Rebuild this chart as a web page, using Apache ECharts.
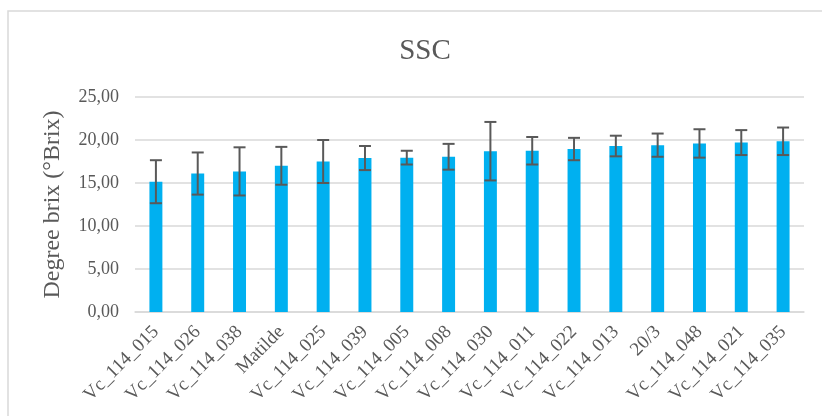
<!DOCTYPE html>
<html>
<head>
<meta charset="utf-8">
<script src="https://cdn.jsdelivr.net/npm/echarts@6/dist/echarts.min.js"></script>
<style>
  html, body { margin: 0; padding: 0; background: #ffffff; }
  #chart { width: 822px; height: 416px; }
</style>
</head>
<body>
<div id="chart"></div>
<script>
// Soluble solids content per genotype (mean ± SD)
const categories = [
  'Vc_114_015', 'Vc_114_026', 'Vc_114_038', 'Matilde', 'Vc_114_025', 'Vc_114_039',
  'Vc_114_005', 'Vc_114_008', 'Vc_114_030', 'Vc_114_011', 'Vc_114_022', 'Vc_114_013',
  '20/3', 'Vc_114_048', 'Vc_114_021', 'Vc_114_035'
];
const meanValues = [15.15, 16.1, 16.35, 17.0, 17.5, 17.9, 17.95, 18.05, 18.7, 18.75, 18.95, 19.3, 19.4, 19.6, 19.7, 19.85];
const sdValues = [2.5, 2.45, 2.8, 2.2, 2.5, 1.4, 0.8, 1.5, 3.4, 1.6, 1.3, 1.2, 1.35, 1.65, 1.45, 1.6];
const yTicks = [0, 5, 10, 15, 20, 25];

const serif = "'Liberation Serif', 'Times New Roman', serif";
const textGray = '#595959';
const gridGray = '#d9d9d9';

const errorData = categories.map((c, i) => [i, meanValues[i] - sdValues[i], meanValues[i] + sdValues[i]]);

const chart = echarts.init(document.getElementById('chart'), null, { renderer: 'canvas' });
chart.setOption({
  backgroundColor: '#ffffff',
  animation: false,
  title: {
    text: 'SSC',
    left: 420,
    textAlign: 'center',
    top: 32,
    textStyle: { fontFamily: serif, fontSize: 29, fontWeight: 'normal', color: textGray }
  },
  graphic: [{
    type: 'rect',
    shape: { x: 8, y: 11, width: 900, height: 500 },
    style: { fill: 'none', stroke: gridGray, lineWidth: 1.5 },
    silent: true
  }],
  grid: { left: 135, top: 97, width: 669, height: 215 },
  xAxis: {
    type: 'category',
    data: categories,
    axisLine: { lineStyle: { color: gridGray, width: 1.5 } },
    axisTick: { show: false },
    axisLabel: {
      interval: 0,
      rotate: 45,
      margin: 17,
      fontFamily: serif,
      fontSize: 19,
      color: textGray
    }
  },
  yAxis: {
    type: 'value',
    min: yTicks[0],
    max: yTicks[yTicks.length - 1],
    interval: 5,
    name: 'Degree brix (°Brix)',
    nameLocation: 'middle',
    nameGap: 70,
    nameTextStyle: { fontFamily: serif, fontSize: 24, color: textGray },
    axisLine: { show: false },
    axisTick: { show: false },
    splitLine: { lineStyle: { color: gridGray, width: 1.5 } },
    axisLabel: {
      margin: 16,
      fontFamily: serif,
      fontSize: 18,
      color: textGray,
      formatter: v => v.toFixed(2).replace('.', ',')
    }
  },
  series: [
    {
      type: 'bar',
      data: meanValues,
      barWidth: '31%',
      itemStyle: { color: '#00B0F0' }
    },
    {
      type: 'custom',
      data: errorData,
      z: 10,
      renderItem: function (params, api) {
        const x = api.value(0);
        const lo = api.coord([x, api.value(1)]);
        const hi = api.coord([x, api.value(2)]);
        const half = 6;
        const style = { stroke: textGray, lineWidth: 2 };
        return {
          type: 'group',
          children: [
            { type: 'line', shape: { x1: hi[0], y1: hi[1], x2: lo[0], y2: lo[1] }, style },
            { type: 'line', shape: { x1: hi[0] - half, y1: hi[1], x2: hi[0] + half, y2: hi[1] }, style },
            { type: 'line', shape: { x1: lo[0] - half, y1: lo[1], x2: lo[0] + half, y2: lo[1] }, style }
          ]
        };
      }
    }
  ]
});
</script>
</body>
</html>
